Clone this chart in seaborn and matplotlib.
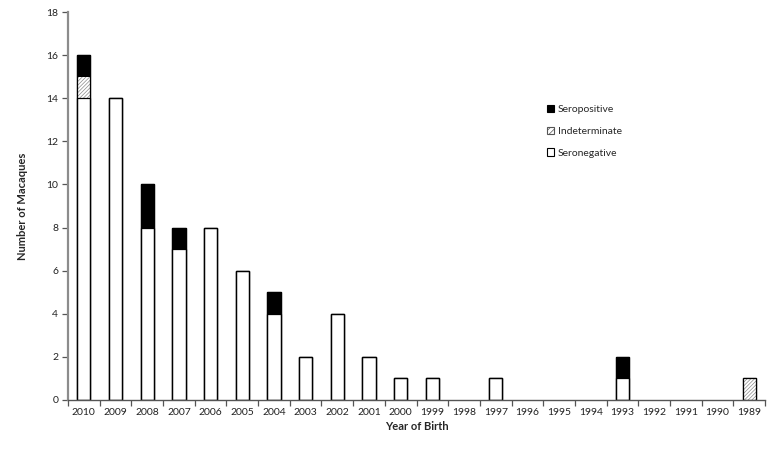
import matplotlib
matplotlib.use("Agg")
import matplotlib.pyplot as plt
from matplotlib.patches import Patch
import seaborn as sns
import pandas as pd
import numpy as np

years = ["2010", "2009", "2008", "2007", "2006", "2005", "2004", "2003", "2002", "2001", "2000",
         "1999", "1998", "1997", "1996", "1995", "1994", "1993", "1992", "1991", "1990", "1989"]
seronegative = [14, 14, 8, 7, 8, 6, 4, 2, 4, 2, 1, 1, 0, 1, 0, 0, 0, 1, 0, 0, 0, 0]
indeterminate = [1, 0, 0, 0, 0, 0, 0, 0, 0, 0, 0, 0, 0, 0, 0, 0, 0, 0, 0, 0, 0, 1]
seropositive = [1, 0, 2, 1, 0, 0, 1, 0, 0, 0, 0, 0, 0, 0, 0, 0, 0, 1, 0, 0, 0, 0]

sns.set_style("white")
plt.rcParams["font.family"] = ["Lato", "DejaVu Sans"]
plt.rcParams["hatch.linewidth"] = 0.5

neg = np.array(seronegative, float)
ind = np.array(indeterminate, float)
pos = np.array(seropositive, float)
df = pd.DataFrame({"year": years, "total": neg + ind + pos, "negind": neg + ind, "neg": neg})

fig = plt.figure(figsize=(7.75, 4.53), dpi=100)
ax = fig.add_axes([0.0877, 0.117, 0.8995, 0.8565])

W = 0.42
def layer(col, **kw):
    d = df[df[col] > 0]
    sns.barplot(data=d, x="year", y=col, order=years, width=W, saturation=1,
                ax=ax, errorbar=None, **kw)

layer("total", color="black", edgecolor="black", linewidth=0.9)
layer("negind", color="white", edgecolor="#8a8a8a", linewidth=0, hatch="/////////")
layer("neg", color="white", edgecolor="black", linewidth=0.9)
layer("total", fill=False, edgecolor="black", linewidth=0.9)

ax.set_xlim(-0.5, len(years) - 0.5)
ax.set_ylim(0, 18)
ax.set_yticks(range(0, 19, 2))
ax.set_xticks(range(len(years)))
ax.set_xticklabels(years)
ax.set_xticks(np.arange(-0.5, len(years), 1.0), minor=True)
ax.tick_params(axis="x", which="major", length=0, labelsize=7.5, pad=6, labelcolor="#222222")
ax.tick_params(axis="x", which="minor", length=4, width=0.9, color="#555555", direction="out", bottom=True)
ax.tick_params(axis="y", length=4, width=0.9, color="#555555", direction="out", left=True,
               labelsize=7.5, labelcolor="#222222", pad=3)

for s in ["top", "right"]:
    ax.spines[s].set_visible(False)
ax.spines["left"].set_color("#8c8c8c")
ax.spines["left"].set_linewidth(1.6)
ax.spines["bottom"].set_color("#555555")
ax.spines["bottom"].set_linewidth(1.0)

ax.set_xlabel("Year of Birth", fontsize=8, fontweight="bold", labelpad=3)
ax.set_ylabel("Number of Macaques", fontsize=8, fontweight="bold", labelpad=13)

handles = [Patch(facecolor="black", edgecolor="black", linewidth=0.8),
           Patch(facecolor="white", edgecolor="#555555", hatch="//////", linewidth=0.8),
           Patch(facecolor="white", edgecolor="black", linewidth=0.8)]
ax.legend(handles, ["Seropositive", "Indeterminate", "Seronegative"], loc="upper left",
          bbox_to_anchor=(0.674, 0.785), frameon=False, fontsize=7.5,
          handlelength=0.7, handleheight=0.7, handletextpad=0.3, labelspacing=1.2)

fig.savefig("out.png", dpi=100)
